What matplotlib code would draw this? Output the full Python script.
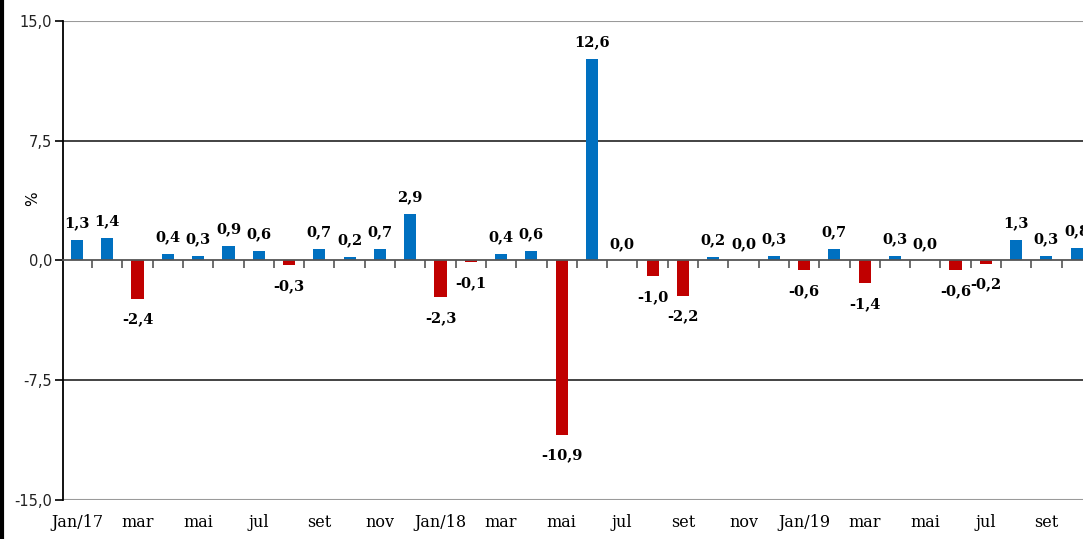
import matplotlib.pyplot as plt
from matplotlib.lines import Line2D

# monthly variation, Jan/17 .. Oct/19
values = [1.3, 1.4, -2.4, 0.4, 0.3, 0.9, 0.6, -0.3, 0.7, 0.2, 0.7, 2.9,
          -2.3, -0.1, 0.4, 0.6, -10.9, 12.6, 0.0, -1.0, -2.2, 0.2, 0.0, 0.3,
          -0.6, 0.7, -1.4, 0.3, 0.0, -0.6, -0.2, 1.3, 0.3, 0.8]
tick_labels = ['Jan/17', 'mar', 'mai', 'jul', 'set', 'nov',
               'Jan/18', 'mar', 'mai', 'jul', 'set', 'nov',
               'Jan/19', 'mar', 'mai', 'jul', 'set']
y_ticks = [-15.0, -7.5, 0.0, 7.5, 15.0]

blue = '#0070C0'
red = '#C00000'

fig = plt.figure(figsize=(10.83, 5.39), dpi=100)
ax = fig.add_axes([0.0582, 0.0724, 0.95, 0.8887])

x = list(range(len(values)))
colors = [blue if v >= 0 else red for v in values]
ax.bar(x, values, width=0.4, color=colors, zorder=3)

ax.set_xlim(-0.46, 33.5)
ax.set_ylim(-15, 15)

# horizontal lines
for y in y_ticks:
    if y in (15.0, -15.0):
        ax.axhline(y, color='#9a9a9a', lw=1.5, zorder=1)
    elif y != 0.0:
        ax.axhline(y, color='#222222', lw=1.2, zorder=1)

# zero axis with tick marks between months
ax.spines['bottom'].set_position(('data', 0))
ax.spines['bottom'].set_color('#555555')
ax.spines['bottom'].set_linewidth(1.3)
ax.spines['bottom'].set_zorder(4)
ax.set_xticks([i + 0.5 for i in x[:-1]])
ax.set_xticklabels([])
ax.tick_params(axis='x', direction='out', length=6, width=1.2, color='#555555')

ax.spines['top'].set_visible(False)
ax.spines['right'].set_visible(False)
ax.spines['left'].set_color('black')
ax.spines['left'].set_linewidth(1.3)

ax.set_yticks(y_ticks)
ax.set_yticklabels([f'{t:.1f}'.replace('.', ',') for t in y_ticks],
                   fontsize=10.5, family='DejaVu Sans', color='#222222')
ax.tick_params(axis='y', direction='out', length=6, width=1.2, pad=2)
ax.set_ylabel('%', fontsize=11, family='DejaVu Sans')
ax.yaxis.set_label_coords(-0.022, 0.63)

# month labels along the bottom of the plot
for xi, lab in zip(x[::2], tick_labels):
    ax.annotate(lab, (xi, 0), xycoords=('data', 'axes fraction'),
                xytext=(0, -10), textcoords='offset points',
                ha='center', va='top', fontsize=11.5, family='DejaVu Serif',
                annotation_clip=False)

# value labels
for xi, v in zip(x, values):
    txt = f'{v:.1f}'.replace('.', ',')
    if v >= 0:
        ax.annotate(txt, (xi, v), xytext=(0, 7), textcoords='offset points',
                    ha='center', va='bottom', fontsize=10.5, fontweight='bold',
                    family='DejaVu Serif', zorder=5)
    else:
        ax.annotate(txt, (xi, v), xytext=(0, -10), textcoords='offset points',
                    ha='center', va='top', fontsize=10.5, fontweight='bold',
                    family='DejaVu Serif', zorder=5)

# frame edge on the left of the picture
fig.add_artist(Line2D([0.002, 0.002], [0, 1], color='black', lw=3,
                      transform=fig.transFigure))

fig.savefig('out.png', dpi=100)
